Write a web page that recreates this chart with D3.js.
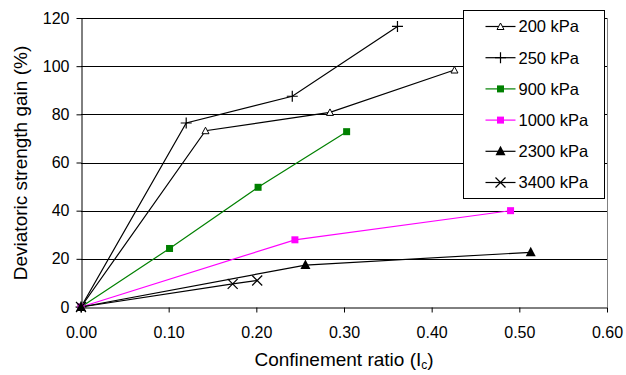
<!DOCTYPE html>
<html>
<head>
<meta charset="utf-8">
<script src="https://cdn.jsdelivr.net/npm/d3@7"></script>
<style>
  body { margin: 0; background: #fff; }
  svg text { font-family: 'Liberation Sans', Arial, sans-serif; fill: #000; }
</style>
</head>
<body>
<div id="chart"></div>
<script>
const seriesNames = ['200 kPa', '250 kPa', '900 kPa', '1000 kPa', '2300 kPa', '3400 kPa'];
const xValues200 = [0, 0.142, 0.284, 0.426];
const yValues200 = [0, 73.2, 80.8, 98.4];
const xValues250 = [0, 0.120, 0.241, 0.361];
const yValues250 = [0, 76.4, 87.5, 116.5];
const xValues900 = [0, 0.101, 0.202, 0.303];
const yValues900 = [0, 24.3, 49.7, 72.8];
const xValues1000 = [0, 0.244, 0.490];
const yValues1000 = [0, 27.9, 40.0];
const xValues2300 = [0, 0.256, 0.513];
const yValues2300 = [0, 17.4, 22.7];
const xValues3400 = [0, 0.173, 0.201];
const yValues3400 = [0, 9.6, 11.0];
const xTicks = [0, 0.1, 0.2, 0.3, 0.4, 0.5, 0.6];
const yTicks = [0, 20, 40, 60, 80, 100, 120];

const zip = (xs, ys) => xs.map((x, i) => ({ x: x, y: ys[i] }));
const series = [
    { name: seriesNames[0], points: zip(xValues200, yValues200), color: '#000', marker: 'openTriangle' },
    { name: seriesNames[1], points: zip(xValues250, yValues250), color: '#000', marker: 'plus' },
    { name: seriesNames[2], points: zip(xValues900, yValues900), color: '#008000', marker: 'square' },
    { name: seriesNames[3], points: zip(xValues1000, yValues1000), color: '#ff00ff', marker: 'square' },
    { name: seriesNames[4], points: zip(xValues2300, yValues2300), color: '#000', marker: 'triangle' },
    { name: seriesNames[5], points: zip(xValues3400, yValues3400), color: '#000', marker: 'cross' },
];

const W = 626, H = 375;
const margin = { top: 18, right: 19, bottom: 68, left: 81 };
const width = W - margin.left - margin.right;
const height = H - margin.top - margin.bottom;
const tickFont = 16;
const titleFont = 19;
const legendFont = 16.5;

const x = d3.scaleLinear().domain([0, 0.6]).range([0, width]);
const y = d3.scaleLinear().domain([0, 120]).range([height, 0]);

const root = d3.select('#chart').append('svg')
    .attr('width', W)
    .attr('height', H);

const svg = root.append('g')
    .attr('transform', `translate(${margin.left},${margin.top})`);

// gridlines
svg.append('g')
    .selectAll('line')
    .data(yTicks.filter(d => d > 0))
    .enter()
    .append('line')
    .attr('x1', 0)
    .attr('x2', width)
    .attr('y1', d => Math.round(y(d)) + 0.5)
    .attr('y2', d => Math.round(y(d)) + 0.5)
    .style('stroke', '#000')
    .style('stroke-width', '1px');

// right border of plot area
svg.append('line')
    .attr('x1', width + 0.5)
    .attr('x2', width + 0.5)
    .attr('y1', 0)
    .attr('y2', height)
    .style('stroke', '#808080')
    .style('stroke-width', '1px');

const xAxis = svg.append('g')
    .attr('transform', `translate(0,${Math.round(height) + 0.5})`)
    .call(d3.axisBottom(x).tickValues(xTicks).tickFormat(d3.format('.2f')).tickSizeInner(5).tickSizeOuter(0).tickPadding(14));
xAxis.select('.domain').style('stroke', '#000');
xAxis.selectAll('text').style('font-size', `${tickFont}px`);

const yAxis = svg.append('g')
    .attr('transform', 'translate(0.5,0)')
    .call(d3.axisLeft(y).tickValues(yTicks).tickSizeInner(5).tickSizeOuter(0).tickPadding(7));
yAxis.select('.domain').style('stroke', '#000');
yAxis.selectAll('text').style('font-size', `${tickFont}px`);

// axis titles
root.append('text')
    .attr('transform', 'translate(27,163) rotate(-90)')
    .attr('text-anchor', 'middle')
    .style('font-size', `${titleFont}px`)
    .text('Deviatoric strength gain (%)');

const xTitle = root.append('text')
    .attr('x', 344)
    .attr('y', 366)
    .attr('text-anchor', 'middle')
    .style('font-size', `${titleFont}px`);
xTitle.append('tspan').text('Confinement ratio (I');
xTitle.append('tspan').attr('dy', 3).style('font-size', '12px').text('c');
xTitle.append('tspan').attr('dy', -3).text(')');

function drawMarker(g, type, color) {
    if (type === 'openTriangle') {
        g.append('path').attr('d', 'M0,-3.5L3.5,3L-3.5,3Z')
            .attr('fill', '#fff').attr('stroke', color).attr('stroke-width', 1);
    } else if (type === 'triangle') {
        g.append('path').attr('d', 'M0,-5.5L5,4L-5,4Z').attr('fill', color);
    } else if (type === 'square') {
        g.append('rect').attr('x', -3.5).attr('y', -3.5).attr('width', 7).attr('height', 7).attr('fill', color);
    } else if (type === 'plus') {
        g.append('path').attr('d', 'M-5.5,0H5.5M0,-5.5V5.5')
            .attr('stroke', color).attr('stroke-width', 1.2);
    } else if (type === 'cross') {
        g.append('path').attr('d', 'M-5,-5L5,5M-5,5L5,-5')
            .attr('stroke', color).attr('stroke-width', 1.2);
    }
}

const line = d3.line().x(d => x(d.x)).y(d => y(d.y));

series.forEach(s => {
    svg.append('path')
        .datum(s.points)
        .attr('d', line)
        .attr('fill', 'none')
        .attr('stroke', s.color)
        .attr('stroke-width', 1.2);
});

series.forEach(s => {
    s.points.forEach(p => {
        const g = svg.append('g').attr('transform', `translate(${x(p.x)},${y(p.y)})`);
        drawMarker(g, s.marker, s.color);
    });
});

// legend
const legend = root.append('g').attr('transform', 'translate(463.5,10.5)');
legend.append('rect')
    .attr('width', 141)
    .attr('height', 188)
    .attr('fill', '#fff')
    .attr('stroke', '#000')
    .attr('stroke-width', 1);

series.forEach((s, i) => {
    const row = legend.append('g').attr('transform', `translate(0,${16 + i * 31.2})`);
    row.append('line')
        .attr('x1', 22).attr('x2', 52)
        .attr('stroke', s.color).attr('stroke-width', 1.2);
    drawMarker(row.append('g').attr('transform', 'translate(37,0)'), s.marker, s.color);
    row.append('text')
        .attr('x', 55)
        .attr('dy', '0.36em')
        .style('font-size', `${legendFont}px`)
        .text(s.name);
});
</script>
</body>
</html>
